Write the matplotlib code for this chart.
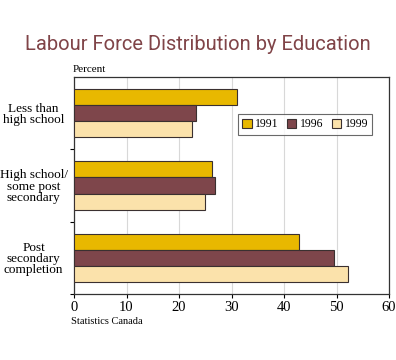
import numpy as np
import matplotlib
matplotlib.use("Agg")
import matplotlib.pyplot as plt
from matplotlib import font_manager

# data
categories = ["Less than\nhigh school", "High school/\nsome post\nsecondary", "Post\nsecondary\ncompletion"]
years = ["1991", "1996", "1999"]
v1991 = [31.0, 26.2, 42.8]
v1996 = [23.2, 26.9, 49.5]
v1999 = [22.5, 24.9, 52.2]
colors = ["#E8B800", "#7E464B", "#FBE2AB"]

plt.rcParams['font.family'] = ['Liberation Serif', 'DejaVu Serif']

names = {f.name for f in font_manager.fontManager.ttflist}
if 'Liberation Sans Narrow' in names:
    title_font, title_size = 'Liberation Sans Narrow', 18
elif 'DejaVu Sans Condensed' in names:
    title_font, title_size = 'DejaVu Sans Condensed', 15
else:
    title_font, title_size = 'Roboto', 14.5

fig = plt.figure(figsize=(3.96, 3.6), dpi=100)
ax = fig.add_axes([74/396, 1 - 293.7/360, 315/396, (293.7 - 77.3)/360])

centers = np.arange(len(categories)) + 0.5
h = 16 / 72
for i, (vals, c, yr) in enumerate(zip([v1991, v1996, v1999], colors, years)):
    ax.barh(centers + (i - 1) * h, vals, height=h, color=c, edgecolor="#3a3030",
            linewidth=0.8, label=yr, zorder=3)

ax.set_xlim(0, 60)
ax.set_ylim(3, 0)
ax.set_xticks(np.arange(0, 61, 10))
ax.tick_params(axis='x', labelsize=10.5, length=3, width=0.8, pad=2)
ax.xaxis.grid(True, color="#d8d8d8", linewidth=0.8, zorder=0)

ax.set_yticks([1, 2, 3])
ax.set_yticklabels([])
ax.set_yticks(centers, minor=True)
ax.set_yticklabels(categories, minor=True, fontsize=9.5, linespacing=0.9, ha='center')
ax.tick_params(axis='y', which='minor', length=0, pad=29)
ax.tick_params(axis='y', which='major', length=3, width=0.8)

for s in ax.spines.values():
    s.set_color("#333333")
    s.set_linewidth(0.9)

leg = ax.legend(loc='upper left', bbox_to_anchor=(164/315, 1 - 37/216.4), ncol=3,
                fontsize=8.5, frameon=True, fancybox=False, edgecolor="#444444",
                handlelength=0.8, handleheight=0.8, handletextpad=0.3,
                columnspacing=0.7, borderpad=0.35, borderaxespad=0)
leg.get_frame().set_linewidth(0.8)

fig.text(0.5, 1 - 45/360, "Labour Force Distribution by Education", ha='center', va='center',
         fontsize=title_size, color="#804448", family=[title_font, 'DejaVu Sans'])
fig.text(73/396, 1 - 70/360, "Percent", fontsize=8, ha='left', va='center')
fig.text(71/396, 1 - 321/360, "Statistics Canada", fontsize=7.5, ha='left', va='center')

fig.savefig("out.png", dpi=100)
